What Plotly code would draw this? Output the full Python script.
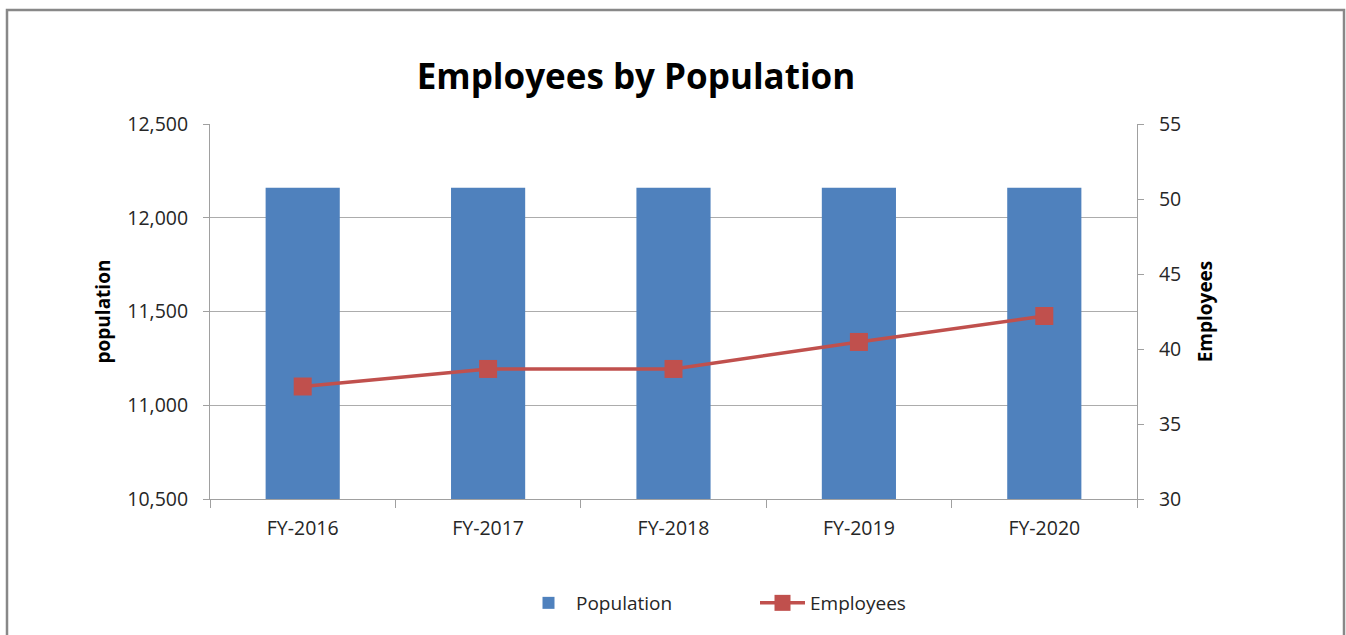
import plotly.graph_objects as go

categories = ["FY-2016", "FY-2017", "FY-2018", "FY-2019", "FY-2020"]
population = [12160, 12160, 12160, 12160, 12160]
employees = [37.5, 38.67, 38.67, 40.47, 42.2]

W, H = 1346, 635
L, R, T, B = 210, 1137, 124, 499
pw, ph = R - L, B - T

FONT = "Open Sans"
TICK = dict(size=19.5, color="#262626")
fig = go.Figure()
fig.add_trace(go.Bar(x=categories, y=population, name="Population",
                     marker=dict(color="#4F81BD", line=dict(width=0)),
                     yaxis="y"))
fig.add_trace(go.Scatter(x=categories, y=employees, name="Employees",
                         mode="lines+markers",
                         line=dict(color="#C0504D", width=3.5),
                         marker=dict(symbol="square", size=18, color="#C0504D"),
                         yaxis="y2"))

fig.update_layout(
    width=W, height=H,
    margin=dict(l=L, r=W - R, t=T, b=H - B),
    paper_bgcolor="white", plot_bgcolor="white",
    bargap=0.6,
    font=dict(family=FONT, size=19, color="#262626"),
    title=dict(text="<b>Employees by Population</b>", x=636 / W, xanchor="center",
               y=1 - 77 / H, yanchor="middle",
               font=dict(family=FONT, size=35, color="black")),
    xaxis=dict(type="category", tickson="boundaries", ticks="outside", ticklen=8,
               tickcolor="#A0A0A0", showline=True, linecolor="#A0A0A0", linewidth=1,
               showgrid=False, tickfont=TICK, ticklabelstandoff=12),
    yaxis=dict(range=[10500, 12500], dtick=500, tickformat=",", ticks="outside",
               ticklen=6, tickcolor="#A0A0A0", showline=True, linecolor="#A0A0A0",
               gridcolor="#ACACAC", gridwidth=1, zeroline=False,
               ticklabelstandoff=11,
               title=dict(text="<b>population</b>", standoff=11,
                          font=dict(size=19, color="black")),
               tickfont=TICK),
    yaxis2=dict(range=[30, 55], dtick=5, overlaying="y", side="right",
                ticks="outside", ticklen=6, tickcolor="#A0A0A0", showline=True,
                linecolor="#A0A0A0", showgrid=False, zeroline=False,
                ticklabelstandoff=11,
                title=dict(text="<b>Employees</b>", standoff=18,
                           font=dict(size=19, color="black")),
                tickfont=TICK),
    legend=dict(orientation="h", x=(755 - L) / pw, xanchor="center",
                y=(B - 603) / ph, yanchor="middle",
                font=dict(size=19, color="#262626"), itemwidth=45,
                entrywidth=174, entrywidthmode="pixels",
                traceorder="normal"),
    showlegend=True,
)

fig.add_shape(type="rect", xref="paper", yref="paper",
              x0=(7 - L) / pw, x1=(1344 - L) / pw,
              y0=(B - 660) / ph, y1=(B - 10) / ph,
              line=dict(color="#888888", width=2.5), fillcolor="rgba(0,0,0,0)",
              layer="below")

fig.write_html("out.html")
